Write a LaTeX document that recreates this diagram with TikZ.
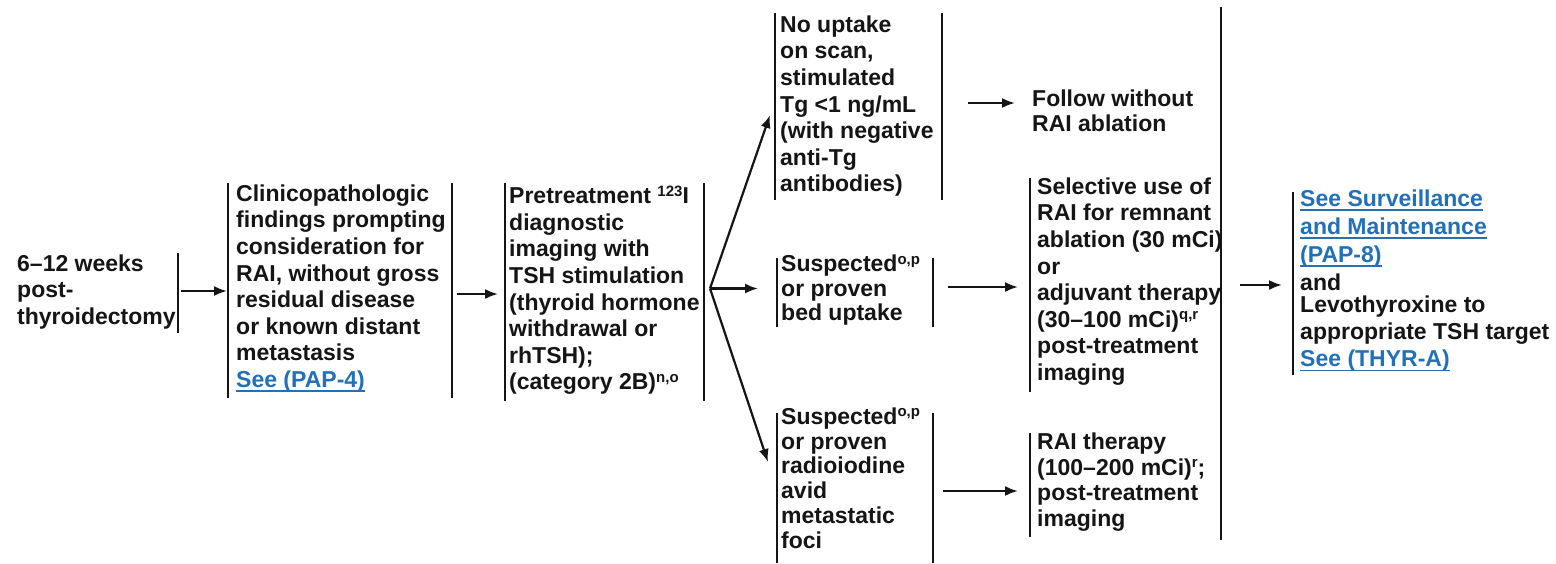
\documentclass[tikz,border=0pt]{standalone}
\usepackage{fontspec}
\setmainfont{Liberation Sans}
\usetikzlibrary{arrows.meta,calc}
\definecolor{lnkblue}{HTML}{2270B8}
\definecolor{ink}{HTML}{151515}
\newcommand{\sups}[1]{\raisebox{7.5pt}{\fontsize{15}{15}\selectfont #1}}
\newcommand{\lnk}[1]{\textcolor{lnkblue}{\setbox0\hbox{#1}\rlap{\rule[-4.5pt]{\wd0}{1.6pt}}\box0}}
\begin{document}
\begin{tikzpicture}[x=1pt,y=-1pt,
  txt/.style={anchor=north west, inner sep=0pt, align=left, text=ink,
    font=\fontsize{23}{26.6}\selectfont\bfseries,
    execute at begin node={\rule{0pt}{17.5pt}}},
  frame/.style={inner sep=0pt, outer sep=0pt, anchor=north west, draw=none},
  bar/.style={draw=ink, line width=2.4pt},
  arr/.style={draw=ink, line width=2.2pt, -{Latex[length=13pt,width=10pt]}}]
\fill[white] (0,0) rectangle (1556,563);
\path[use as bounding box] (0,0) rectangle (1556,563);

% frames (box extents)
\node[frame, minimum width=161pt, minimum height=80pt]  (b1)  at (17,253)  {};
\node[frame, minimum width=224pt, minimum height=215pt] (b2)  at (228,183) {};
\node[frame, minimum width=199pt, minimum height=218pt] (b3)  at (505,183) {};
\node[frame, minimum width=167pt, minimum height=187pt] (b4a) at (775,13)  {};
\node[frame, minimum width=156pt, minimum height=69pt]  (b4b) at (777,258) {};
\node[frame, minimum width=156pt, minimum height=150pt] (b4c) at (777,413) {};
\node[frame, minimum width=191pt, minimum height=214pt] (b5a) at (1030,178) {};
\node[frame, minimum width=191pt, minimum height=104pt] (b5b) at (1030,433) {};
\node[frame, minimum width=0pt, minimum height=533pt]   (bb)  at (1221,7)  {};
\node[frame, minimum width=257pt, minimum height=183pt] (fin) at (1293,192) {};

% texts (node top = first baseline - 17.5)
\node[txt] (b1t) at (17,254.5) {6–12 weeks\\post-\\thyroidectomy};
\node[txt] (b2t) at (236,184.5) {Clinicopathologic\\findings prompting\\consideration for\\RAI, without gross\\residual disease\\or known distant\\metastasis\\\lnk{See (PAP-4)}};
\node[txt] (b3t) at (509,185.5) {Pretreatment \sups{123}I\\diagnostic\\imaging with\\TSH stimulation\\(thyroid hormone\\withdrawal or\\rhTSH);\\(category 2B)\sups{n,o}};
\node[txt] (b4at) at (780,15.5) {No uptake\\on scan,\\stimulated\\Tg <1 ng/mL\\(with negative\\anti-Tg\\antibodies)};
\node[txt, font=\fontsize{23}{25}\selectfont\bfseries] (fw) at (1032,89.5) {Follow without\\RAI ablation};
\node[txt, font=\fontsize{23}{24.5}\selectfont\bfseries] (b4bt) at (781,255) {Suspected\sups{o,p}\\or proven\\bed uptake};
\node[txt, font=\fontsize{23}{24.8}\selectfont\bfseries] (b4ct) at (781,407.5) {Suspected\sups{o,p}\\or proven\\radioiodine\\avid\\metastatic\\foci};
\node[txt] (b5at) at (1037,177.5) {Selective use of\\RAI for remnant\\ablation (30 mCi)\\or\\adjuvant therapy\\(30–100 mCi)\sups{q,r}\\post-treatment\\imaging};
\node[txt, font=\fontsize{23}{25.7}\selectfont\bfseries] (b5bt) at (1037,432.5) {RAI therapy\\(100–200 mCi)\sups{r};\\post-treatment\\imaging};
\node[txt, font=\fontsize{23}{28}\selectfont\bfseries] (fin1) at (1300,189.5) {\lnk{See Surveillance}\\\lnk{and Maintenance}\\\lnk{(PAP-8)}};
\node[txt] (fin2) at (1300,272.5) {and};
\node[txt, font=\fontsize{23}{27}\selectfont\bfseries] (fin3) at (1300,296) {Levothyroxine to\\appropriate TSH target\\\lnk{See (THYR-A)}};

% bars
\draw[bar] (b1.north east) -- (b1.south east);
\draw[bar] (b2.north west) -- (b2.south west);
\draw[bar] (b2.north east) -- (b2.south east);
\draw[bar] (b3.north west) -- (b3.south west);
\draw[bar] (b3.north east) -- (b3.south east);
\draw[bar] (b4a.north west) -- (b4a.south west);
\draw[bar] (b4a.north east) -- (b4a.south east);
\draw[bar] (b4b.north west) -- (b4b.south west);
\draw[bar] (b4b.north east) -- (b4b.south east);
\draw[bar] (b4c.north west) -- (b4c.south west);
\draw[bar] (b4c.north east) -- (b4c.south east);
\draw[bar] (b5a.north west) -- (b5a.south west);
\draw[bar] (b5b.north west) -- (b5b.south west);
\draw[bar] (bb.north) -- (bb.south);
\draw[bar] (fin.north west) -- (fin.south west);

% arrows
\draw[arr] ($(b1.east)+(3,-2)$) -- ($(b2.west |- b1.east)+(-1,-2)$);
\draw[arr] ($(b2.east)+(5,3.5)$) -- ($(b3.west |- b2.east)+(-7,3.5)$);
\coordinate (o) at ($(b3.east)+(6,-3.5)$);
\draw[arr] (o) -- ($(b4a.west)+(-5,8.5)$);
\draw[arr] (o) -- ($(o -| b4b.west)+(-19,0)$);
\draw[arr] (o) -- ($(b4c.west)+(-9,-26)$);
\draw[arr] ($(b4a.east)+(26,-3.5)$) -- ($(fw.west |- b4a.east)+(-17,-3.5)$);
\draw[arr] ($(b4b.east)+(15,-5.5)$) -- ($(b5a.west |- b4b.east)+(-12,-5.5)$);
\draw[arr] ($(b4c.east)+(10,3)$) -- ($(b5b.west |- b4c.east)+(-12,3)$);
\draw[arr] ($(bb.east)+(19,11.5)$) -- ($(fin.west |- bb.east)+(-11,11.5)$);
\end{tikzpicture}
\end{document}
